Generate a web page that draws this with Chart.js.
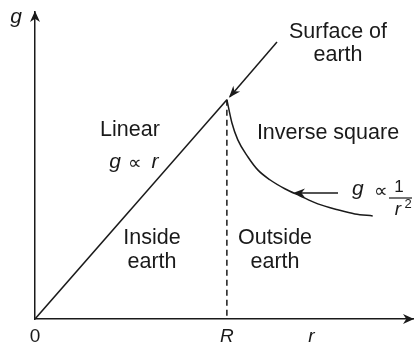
<!DOCTYPE html>
<html><head><meta charset="utf-8">
<script src="https://cdn.jsdelivr.net/npm/chart.js@4"></script>
<style>html,body{margin:0;padding:0;background:#fff}#wrap{width:415px;height:343px}</style>
</head><body><div id="wrap"><canvas id="c" width="415" height="343"></canvas></div>
<script>
// Data (r in units of R, g in units of g at surface)
const linearR = [0, 1];
const linearG = [0, 1];
const dropR = [1, 1];
const dropG = [1, 0];
const curveR = [1.0, 1.026, 1.057, 1.109, 1.161, 1.224, 1.302, 1.380, 1.474, 1.578, 1.667, 1.760];
const curveG = [1.0, 0.895, 0.817, 0.740, 0.680, 0.635, 0.594, 0.562, 0.525, 0.498, 0.479, 0.470];
const tickValues = [0, 1, 1.44];
const tickLabels = ['0', 'R', 'r'];

const INK = '#1a1a1a';
const FONT = '"Liberation Sans", Arial, sans-serif';
const pts = (xs, ys) => xs.map((x, i) => ({x, y: ys[i]}));

function arrowHead(ctx, x, y, ang, len, w) {
  ctx.save();
  ctx.translate(x, y); ctx.rotate(ang);
  ctx.beginPath();
  ctx.moveTo(0, 0); ctx.lineTo(-len, -w); ctx.lineTo(-len * 0.7, 0); ctx.lineTo(-len, w);
  ctx.closePath(); ctx.fillStyle = INK; ctx.fill();
  ctx.restore();
}

const deco = {
  id: 'deco',
  afterDraw(chart) {
    const ctx = chart.ctx, a = chart.chartArea;
    ctx.save();
    // axis arrows
    arrowHead(ctx, a.right + 1, a.bottom, 0, 11, 5);
    arrowHead(ctx, a.left, a.top - 1, -Math.PI / 2, 11, 5);
    ctx.strokeStyle = INK; ctx.lineWidth = 1.5;
    // surface arrow
    const xs = chart.scales.x, ys = chart.scales.y;
    const px = xs.getPixelForValue(1), py = ys.getPixelForValue(1);
    const sx = 277, sy = 42;
    ctx.beginPath(); ctx.moveTo(sx, sy); ctx.lineTo(px + 3, py - 3); ctx.stroke();
    arrowHead(ctx, px + 2, py - 2, Math.atan2(py - sy, px - sx), 12, 4.5);
    // g ∝ 1/r^2 arrow
    ctx.beginPath(); ctx.moveTo(338, 193); ctx.lineTo(300, 193); ctx.stroke();
    arrowHead(ctx, 293, 193, Math.PI, 12, 4.5);

    ctx.fillStyle = INK; ctx.textAlign = 'center'; ctx.textBaseline = 'middle';
    ctx.font = '21.5px ' + FONT;
    ctx.fillText('Surface of', 338, 32);
    ctx.fillText('earth', 338, 55);
    ctx.fillText('Linear', 130, 130);
    ctx.fillText('Inverse square', 328, 133);
    ctx.fillText('Inside', 152, 238);
    ctx.fillText('earth', 152, 262);
    ctx.fillText('Outside', 275, 238);
    ctx.fillText('earth', 275, 262);
    ctx.font = 'italic 21px ' + FONT;
    ctx.fillText('g', 115, 162);
    ctx.fillText('r', 155, 162);
    ctx.fillText('g', 16, 17);
    ctx.textAlign = 'left';
    ctx.fillText('g', 352, 189);
    ctx.font = '19px ' + FONT;
    ctx.textAlign = 'center';
    ctx.fillText('\u221D', 135, 164);
    ctx.fillText('\u221D', 381, 192);
    // fraction
    ctx.font = '17px ' + FONT;
    ctx.fillText('1', 399, 187);
    ctx.lineWidth = 1.2;
    ctx.beginPath(); ctx.moveTo(389, 198); ctx.lineTo(412, 198); ctx.stroke();
    ctx.font = 'italic 19px ' + FONT;
    ctx.fillText('r', 398, 210);
    ctx.font = '13px ' + FONT;
    ctx.fillText('2', 408, 204);
    ctx.restore();
  }
};

new Chart(document.getElementById('c'), {
  type: 'scatter',
  data: {
    datasets: [
      {data: pts(linearR, linearG), showLine: true, borderColor: INK, borderWidth: 1.5, pointRadius: 0},
      {data: pts(dropR, dropG), showLine: true, borderColor: INK, borderWidth: 1.5, borderDash: [6, 4], pointRadius: 0},
      {data: pts(curveR, curveG), showLine: true, borderColor: INK, borderWidth: 1.5, pointRadius: 0, cubicInterpolationMode: 'monotone'}
    ]
  },
  options: {
    responsive: false, animation: false, events: [],
    layout: {padding: {left: 35, right: 2, top: 12, bottom: 0}},
    plugins: {legend: {display: false}, tooltip: {enabled: false}},
    scales: {
      x: {
        type: 'linear', min: 0, max: 1.97,
        grid: {display: false, drawTicks: false},
        border: {display: true, color: INK, width: 1.5},
        afterBuildTicks: s => { s.ticks = tickValues.map(v => ({value: v})); },
        afterFit: s => { s.height = 24; },
        ticks: {
          padding: 6, color: INK, maxRotation: 0, autoSkip: false,
          callback: (v, i) => tickLabels[i],
          font: ctx => ({family: FONT, size: 19, style: ctx.index === 0 ? 'normal' : 'italic'})
        }
      },
      y: {
        type: 'linear', min: 0, max: 1.40,
        grid: {display: false, drawTicks: false},
        border: {display: true, color: INK, width: 1.5},
        ticks: {display: false},
        afterFit: s => { s.width = 0; }
      }
    }
  },
  plugins: [deco]
});
</script></body></html>
